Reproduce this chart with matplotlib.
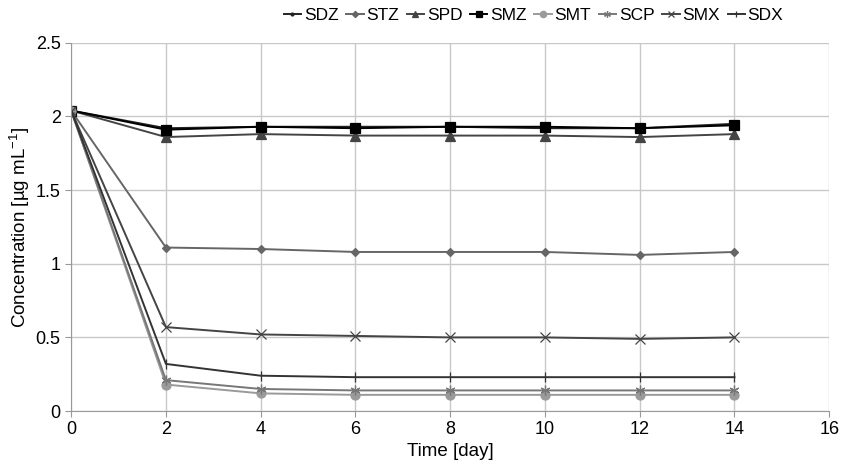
import numpy as np
import matplotlib.pyplot as plt

plt.rcParams['font.family'] = ['Liberation Sans', 'DejaVu Sans']
plt.rcParams['mathtext.fontset'] = 'custom'
plt.rcParams['mathtext.rm'] = 'Liberation Sans'

days = [0, 2, 4, 6, 8, 10, 12, 14]
sdz = [2.04, 1.92, 1.93, 1.93, 1.93, 1.92, 1.92, 1.95]
stz = [2.04, 1.11, 1.10, 1.08, 1.08, 1.08, 1.06, 1.08]
spd = [2.04, 1.86, 1.88, 1.87, 1.87, 1.87, 1.86, 1.88]
smz = [2.04, 1.91, 1.93, 1.92, 1.93, 1.93, 1.92, 1.94]
smt = [2.04, 0.18, 0.12, 0.11, 0.11, 0.11, 0.11, 0.11]
scp = [2.04, 0.21, 0.15, 0.14, 0.14, 0.14, 0.14, 0.14]
smx = [2.04, 0.57, 0.52, 0.51, 0.50, 0.50, 0.49, 0.50]
sdx = [2.04, 0.32, 0.24, 0.23, 0.23, 0.23, 0.23, 0.23]

series = [
    ('SDZ', sdz, '#222222', 'o', 3),
    ('STZ', stz, '#666666', 'D', 4.5),
    ('SPD', spd, '#444444', '^', 6.5),
    ('SMZ', smz, '#000000', 's', 6.5),
    ('SMT', smt, '#9a9a9a', 'o', 6.5),
    ('SCP', scp, '#777777', (6, 2, 0), 7),
    ('SMX', smx, '#444444', 'x', 6.5),
    ('SDX', sdx, '#333333', '|', 7),
]

fig = plt.figure(figsize=(8.47, 4.65), dpi=100)
ax = fig.add_axes([0.084, 0.116, 0.895, 0.792])

for name, vals, col, mk, ms in series:
    ax.plot(days, vals, color=col, marker=mk, markersize=ms, linewidth=1.4,
            markeredgewidth=0.9, label=name)

ax.set_xlim(0, 16)
ax.set_ylim(0, 2.5)
ax.set_xticks(np.arange(0, 17, 2))
ax.set_yticks([0, 0.5, 1, 1.5, 2, 2.5])
ax.set_yticklabels(['0', '0.5', '1', '1.5', '2', '2.5'])
ax.grid(True, color='#c8c8c8', linewidth=1.0)
ax.set_axisbelow(True)
for s in ['top', 'right']:
    ax.spines[s].set_visible(False)
for s in ['left', 'bottom']:
    ax.spines[s].set_color('#999999')
ax.tick_params(labelsize=13, color='#999999', length=4)

ax.set_xlabel('Time [day]', fontsize=13.5, labelpad=3)
ax.set_ylabel('Concentration [µg mL$^{-1}$]', fontsize=13.5, labelpad=3)

ax.legend(loc='lower center', bbox_to_anchor=(0.61, 1.03), ncol=8, frameon=False,
          fontsize=12.5, handlelength=1.0, handletextpad=0.15, columnspacing=0.45,
          markerscale=0.7, borderaxespad=0.1)

fig.savefig('out.png', dpi=100)
